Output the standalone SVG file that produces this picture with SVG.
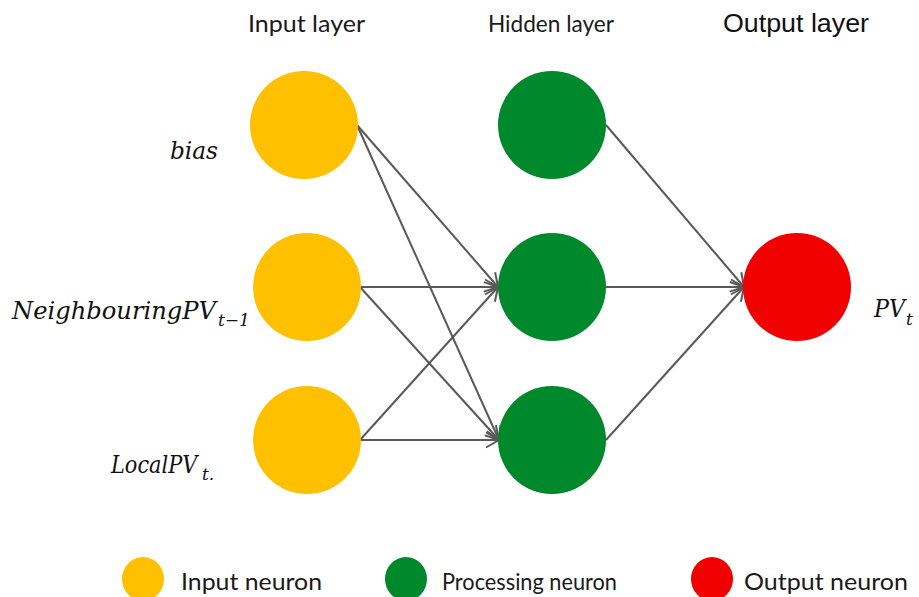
<svg xmlns="http://www.w3.org/2000/svg" width="919" height="597" viewBox="0 0 919 597">
<style>
.in{fill:#FFC000}
.hid{fill:#00892C}
.out{fill:#F00000}
.hdr{font-family:Lato,"Liberation Sans",sans-serif;font-size:24px;fill:#1a1a1a}
.hdr2{font-family:"Liberation Sans",Arial,sans-serif;font-size:26px;fill:#111}
.math{font-family:"DejaVu Serif","Liberation Serif",serif;font-style:italic;font-size:24px;fill:#111}
.sub{font-family:"DejaVu Serif","Liberation Serif",serif;font-style:italic;font-size:17px;fill:#111}
.leg{font-family:Lato,"Liberation Sans",sans-serif;font-size:24px;fill:#1a1a1a}
.conn line{stroke:#595959;stroke-width:2;fill:none}
</style>
<defs>
<marker id="arr" markerUnits="userSpaceOnUse" markerWidth="18" markerHeight="18" refX="15" refY="9" orient="auto">
<path d="M2,1.5 L15,9 L2,16.5" fill="none" stroke="#595959" stroke-width="2"/>
</marker>
</defs>
<rect width="919" height="597" fill="#fff"/>
<g id="headers">
<text class="hdr" x="248" y="32" textLength="117" lengthAdjust="spacingAndGlyphs">Input layer</text>
<text class="hdr" x="488" y="32" textLength="126" lengthAdjust="spacingAndGlyphs">Hidden layer</text>
<text class="hdr2" x="723" y="32" textLength="146" lengthAdjust="spacingAndGlyphs">Output layer</text>
</g>
<g class="conn" id="connectors">
<line x1="357" y1="125" x2="498" y2="287" marker-end="url(#arr)"/>
<line x1="357" y1="125" x2="499" y2="440" marker-end="url(#arr)"/>
<line x1="360" y1="287" x2="498" y2="287" marker-end="url(#arr)"/>
<line x1="360" y1="287" x2="499" y2="440" marker-end="url(#arr)"/>
<line x1="360" y1="440" x2="498" y2="287" marker-end="url(#arr)"/>
<line x1="360" y1="440" x2="499" y2="440" marker-end="url(#arr)"/>
<line x1="606" y1="125" x2="744" y2="287" marker-end="url(#arr)"/>
<line x1="606" y1="287" x2="744" y2="287" marker-end="url(#arr)"/>
<line x1="606" y1="440" x2="744" y2="287" marker-end="url(#arr)"/>
</g>
<g id="in_bias"><circle class="in" cx="304" cy="125" r="54"/><text class="math" x="170" y="159" textLength="48" lengthAdjust="spacingAndGlyphs">bias</text></g>
<g id="in_neigh"><circle class="in" cx="307" cy="287" r="54"/><text class="math" x="12" y="319"><tspan textLength="204" lengthAdjust="spacingAndGlyphs">NeighbouringPV</tspan><tspan class="sub" x="218" y="326">t−1</tspan></text></g>
<g id="in_local"><circle class="in" cx="307" cy="440" r="54"/><text class="math" transform="translate(111 473) scale(0.87 1)">LocalPV</text><text class="sub" x="202" y="480">t.</text></g>
<g id="hid1"><circle class="hid" cx="552" cy="125" r="54"/></g>
<g id="hid2"><circle class="hid" cx="552" cy="287" r="54"/></g>
<g id="hid3"><circle class="hid" cx="552" cy="440" r="54"/></g>
<g id="out1"><circle class="out" cx="797" cy="287" r="54"/><text class="math" x="874" y="317"><tspan textLength="31" lengthAdjust="spacingAndGlyphs">PV</tspan><tspan class="sub" x="906" y="325">t</tspan></text></g>
<g id="legend">
<ellipse class="in" cx="143" cy="579" rx="21" ry="22"/>
<text class="leg" x="181" y="590" textLength="141" lengthAdjust="spacingAndGlyphs">Input neuron</text>
<ellipse class="hid" cx="406" cy="579" rx="21" ry="22"/>
<text class="leg" x="442" y="590" textLength="175" lengthAdjust="spacingAndGlyphs">Processing neuron</text>
<ellipse class="out" cx="712" cy="579" rx="21" ry="22"/>
<text class="leg" x="744" y="590" textLength="164" lengthAdjust="spacingAndGlyphs">Output neuron</text>
</g>
</svg>
